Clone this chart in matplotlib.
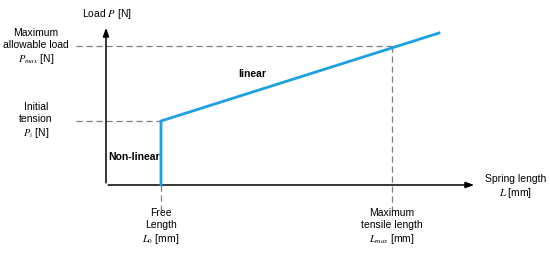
import matplotlib
matplotlib.use("Agg")
import matplotlib.pyplot as plt

plt.rcParams['font.family'] = ['Liberation Sans', 'DejaVu Sans']
plt.rcParams['mathtext.fontset'] = 'stix'

# Schematic values (arbitrary units, origin at 0)
L_free = 55.0      # free length L0
L_max = 286.0      # maximum tensile length
L_end = 333.0      # end of drawn curve
P_init = 64.0      # initial tension Pi
P_max = 139.0      # maximum allowable load
P_end = 152.0      # load at end of curve

curve_L = [L_free, L_free, L_end]
curve_P = [0.0, P_init, P_end]

fig = plt.figure(figsize=(5.5, 2.54), dpi=100)
ax = fig.add_axes([0, 0, 1, 1])
ax.set_xlim(-106, 444)
ax.set_ylim(-69, 185)
ax.axis('off')

dash = dict(color='#7f7f7f', lw=0.9, ls=(0, (5, 3)))
# dashed guides
ax.plot([-30, L_free], [P_init, P_init], **dash)
ax.plot([-30, L_max], [P_max, P_max], **dash)
ax.plot([L_max, L_max], [P_max, -25], **dash)
ax.plot([L_free, L_free], [0, -25], **dash)

# axes arrows
ax.annotate('', xy=(0, 160), xytext=(0, -0.6),
            arrowprops=dict(arrowstyle='-|>,head_length=0.5,head_width=0.18', color='black', lw=1.1))
ax.annotate('', xy=(371, 0), xytext=(-0.6, 0),
            arrowprops=dict(arrowstyle='-|>,head_length=0.5,head_width=0.18', color='black', lw=1.1))

# curve
ax.plot(curve_L, curve_P, color='#1ba1e2', lw=2.0, solid_joinstyle='miter', zorder=5)

fs = 7.5
ax.text(1, 171, r'Load $P$ [N]', ha='center', va='center', fontsize=fs)
ax.text(-70, 138, 'Maximum\nallowable load\n' + r'$P_{max}$ [N]', ha='center', va='center',
        fontsize=fs, linespacing=1.25)
ax.text(-70, 64, 'Initial\ntension\n' + r'$P_i$ [N]', ha='center', va='center',
        fontsize=fs, linespacing=1.25)
ax.text(28, 28, 'Non-linear', ha='center', va='center', fontsize=fs, fontweight='bold')
ax.text(146, 111, 'linear', ha='center', va='center', fontsize=fs, fontweight='bold')
ax.text(L_free, -42, 'Free\nLength\n' + r'$L_0$ [mm]', ha='center', va='center',
        fontsize=fs, linespacing=1.25)
ax.text(L_max, -42, 'Maximum\ntensile length\n' + r'$L_{max}$ [mm]', ha='center', va='center',
        fontsize=fs, linespacing=1.25)
ax.text(410, -2, 'Spring length\n' + r'$L$ [mm]', ha='center', va='center',
        fontsize=fs, linespacing=1.25)

fig.savefig('out.png', dpi=100)
